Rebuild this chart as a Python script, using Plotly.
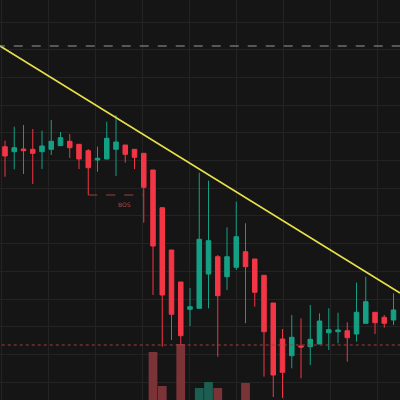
import plotly.graph_objects as go

opens  = [253.3,248.3,251,250.7,248.3,250.7,254.3,258.7,255.7,249.3,240,241,250.7,255,250.7,246.7,230,192.3,150,118,90.7,91.7,126,143.3,123.3,132.7,148.3,141,124.7,97,61,44.3,54,53.3,56,67.3,68.3,69.3,66,76.7,87.7,82.7,80]
highs  = [259.3,273.3,275,271,269.3,280,268,266,256,251,253.3,278.3,285,255,251,247,230,192.3,150,118,112,227.3,219.3,145,172.7,198.3,176.7,141,124.7,97,71,85,81.7,95,86.7,91.7,87.3,77.7,117.3,123.3,87.7,85,106.7]
lows   = [223.3,230.7,226,216,231,245,254.3,242,231,205,228.3,240.7,224,237.3,231,177.3,105,53.3,60,55,74,91.7,91.7,43.3,110,130,76.7,93.3,23.3,3,2,31.7,21.7,35,56,50,56.7,38.3,58.3,77,66,72.3,75]
closes = [244,252.3,249.3,246.7,254,258.7,262.3,252.3,241,232.3,241.7,261.7,258,245.7,242.7,212.7,154,105,85.7,64.3,93.3,160.7,159.3,104.3,143.3,163.3,133.3,107.7,68.3,25,27.7,62.7,53,60.7,79,70.3,70,62.3,87.7,98.3,77.3,76.7,90]
xs = list(range(len(opens)))

vol_x = [16,17,19,21,22,23,26]
vol_v = [48,14,56,12,18,12,17]
vol_up = [False,False,False,True,True,False,False]

trend = [-0.54, 354, 42.7, 107]
resist_level = 354
support_level = 55
bos_x = [9, 15]
bos_level = 205

RED = "#f23645"
GREEN = "#14a085"

fig = go.Figure()
fig.add_trace(go.Bar(x=vol_x, y=vol_v, width=0.95,
    marker_color=["#1d5e52" if u else "#7a3438" for u in vol_up], marker_line_width=0,
    hoverinfo="skip"))
fig.add_trace(go.Candlestick(x=xs, open=opens, high=highs, low=lows, close=closes,
    increasing=dict(line=dict(color=GREEN, width=1), fillcolor=GREEN),
    decreasing=dict(line=dict(color=RED, width=1), fillcolor=RED),
    whiskerwidth=0))
fig.add_trace(go.Scatter(x=[trend[0], trend[2]], y=[trend[1], trend[3]], mode="lines",
    line=dict(color="#e8e04a", width=1.5), hoverinfo="skip"))
fig.add_trace(go.Scatter(x=[-1, 44], y=[resist_level]*2, mode="lines",
    line=dict(color="#9a9a9a", width=1, dash="dash")))
fig.add_trace(go.Scatter(x=[-1, 44], y=[support_level]*2, mode="lines",
    line=dict(color="#a04040", width=1, dash="dot")))
fig.add_trace(go.Scatter(x=bos_x, y=[bos_level]*2, mode="lines",
    line=dict(color="#a04040", width=1, dash="dash")))
fig.add_trace(go.Scatter(x=[12.9], y=[bos_level-10], mode="text", text=["BOS"],
    textfont=dict(color="#b04848", size=6, family="DejaVu Sans")))

fig.update_layout(width=400, height=400, margin=dict(l=0, r=0, t=0, b=0),
    paper_bgcolor="#151515", plot_bgcolor="#151515", showlegend=False,
    xaxis=dict(range=[-0.54, 42.7], rangeslider_visible=False, showticklabels=False,
               showgrid=True, gridcolor="#232323", dtick=5.081, tick0=4.65, zeroline=False),
    yaxis=dict(range=[0, 400], showticklabels=False, showgrid=True, gridcolor="#232323",
               dtick=27.7, tick0=17.9, zeroline=False))
fig.write_html("out.html", config={"displayModeBar": False},
    post_script="document.body.style.margin='0';document.body.style.background='#151515';")
